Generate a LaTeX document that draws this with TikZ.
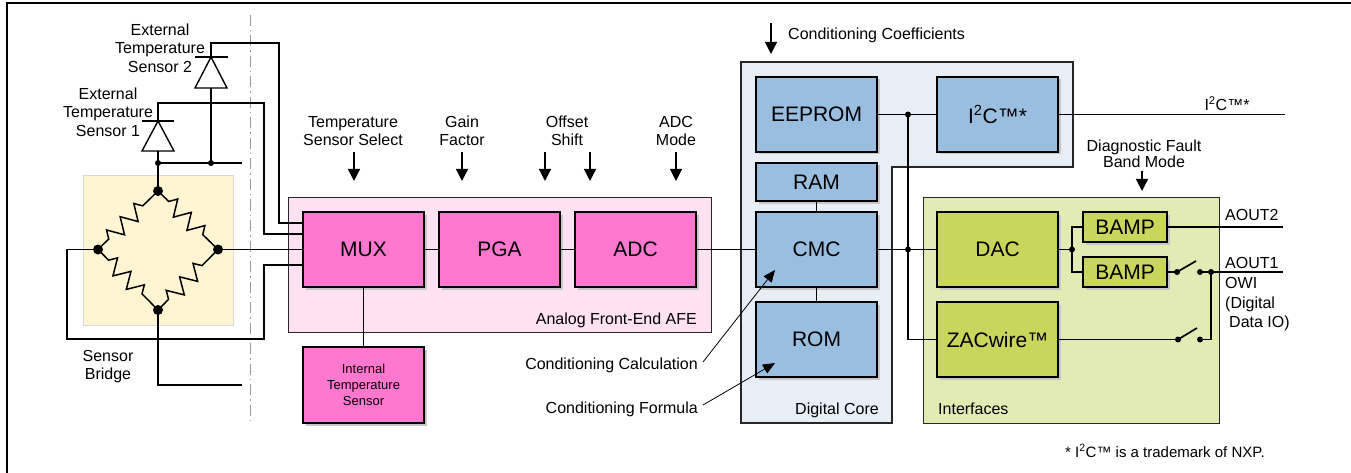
\documentclass[tikz,border=0pt]{standalone}
\usepackage{fontspec}
\setmainfont{Liberation Sans}
\usetikzlibrary{arrows.meta,shadows,decorations.pathmorphing,calc}
\definecolor{pinkc}{HTML}{FF78D0}
\definecolor{pinkbg}{HTML}{FFE1F4}
\definecolor{bluec}{HTML}{99BEDF}
\definecolor{bluebg}{HTML}{E8EEF6}
\definecolor{greenc}{HTML}{C9D65B}
\definecolor{greenbg}{HTML}{E3EBB5}
\definecolor{bridgebg}{HTML}{FFF5D3}
\begin{document}
\begin{tikzpicture}[x=1pt,y=-1pt,
  wire/.style={line width=1.7pt},
  thinwire/.style={line width=1.2pt},
  box/.style={draw=black, line width=1.2pt, inner sep=0pt, minimum width=121pt, minimum height=75pt,
    font=\fontsize{21}{24}\selectfont,
    general shadow={fill=black!22, shadow xshift=2.5pt, shadow yshift=-2.5pt}},
  pinkbox/.style={box, fill=pinkc},
  bluebox/.style={box, fill=bluec},
  greenbox/.style={box, fill=greenc},
  cont/.style={draw=black!85, line width=1.2pt},
  lbl/.style={font=\fontsize{16}{18.5}\selectfont, align=center, inner sep=0pt},
  ctl/.style={line width=1.2pt, -{Triangle[width=12pt,length=12pt]}},
  thinarrow/.style={line width=0.8pt, -{Triangle[width=10pt,length=12pt]}},
  dot/.style={circle, fill=black, inner sep=0pt, minimum size=6pt},
  bigdot/.style={circle, fill=black, inner sep=0pt, minimum size=10pt},
  resistor/.style={line width=1.5pt, line join=miter, decorate, decoration={zigzag, segment length=19pt, amplitude=8pt, pre length=15pt, post length=15pt}},
]
\useasboundingbox (0,0) rectangle (1351,473);
\fill[white] (0,0) rectangle (1351,473);
% outer frame
\draw[line width=2pt] (7,473) -- (7,3.5) -- (1351,3.5);
% dash-dot separator
\draw[black!40, line width=1pt, dash pattern=on 11pt off 4pt on 1.5pt off 4pt] (250,15) -- (250,423);

% ---------- containers ----------
\node[cont, fill=pinkbg, minimum width=423pt, minimum height=135pt, anchor=north west, inner sep=0pt] (afe) at (288,197) {};
\node[lbl, anchor=east] (afelbl) at (697,320) {Analog Front-End AFE};
\draw[cont, fill=bluebg] (741,62) -- (1073,62) -- (1073,167) -- (892,167) -- (892,423) -- (741,423) -- cycle;
\node[lbl, anchor=east] (dclbl) at (879,410) {Digital Core};
\node[cont, fill=greenbg, minimum width=296pt, minimum height=226pt, anchor=north west, inner sep=0pt] (intf) at (923,197) {};
\node[lbl, anchor=west] (intlbl) at (938,409) {Interfaces};

% ---------- sensor bridge ----------
\fill[bridgebg, draw=black!15] (83,175) rectangle (233,325);
\node[bigdot] (bt) at (158,191) {};
\node[bigdot] (bl) at (98,249.5) {};
\node[bigdot] (br) at (218,249.5) {};
\node[bigdot] (bb) at (158,310) {};
\draw[resistor] (bl.center) -- (bt.center);
\draw[resistor] (bt.center) -- (br.center);
\draw[resistor] (bl.center) -- (bb.center);
\draw[resistor] (bb.center) -- (br.center);
\node[lbl] (sblbl) at (108,366.5) {Sensor\\Bridge};

% ---------- AFE blocks ----------
\node[pinkbox] (mux) at (363.5,249.5) {MUX};
\node[pinkbox] (pga) at (499.5,249.5) {PGA};
\node[pinkbox] (adc) at (635.5,249.5) {ADC};
\node[pinkbox, minimum height=76pt, align=center, font=\fontsize{13}{16}\selectfont] (its) at (363.5,385) {Internal\\Temperature\\Sensor};

\coordinate (m1) at ([yshift=26.5pt]mux.west);
\coordinate (m2) at ([yshift=15.5pt]mux.west);
\coordinate (m3) at (mux.west);
\coordinate (m4) at ([yshift=-15.5pt]mux.west);

% ---------- external diodes ----------
\coordinate (d2a) at (211,57);
\coordinate (d1a) at (158,121);
\draw[wire] (195,57) -- (228,57);
\draw[line width=1.4pt, fill=white] (d2a) -- (195,88) -- (227,88) -- cycle;
\draw[wire] (142,121) -- (174,121);
\draw[line width=1.4pt, fill=white] (d1a) -- (142,151) -- (174,151) -- cycle;
\node[lbl] (es2) at (160,48) {External\\Temperature\\Sensor 2};
\node[lbl] (es1) at (108,112) {External\\Temperature\\Sensor 1};

\node[dot] (j1) at (158,163) {};
\node[dot] (j2) at (211,163) {};
\coordinate (jend) at (242,163);
\draw[wire] (d2a) -- (211,43) -- (279,43) |- (m1);
\draw[wire] (d1a) -- (158,103) -- (264,103) |- (m2);
\draw[wire] (211,88) -- (j2.center);
\draw[wire] (158,151) -- (bt.center);
\draw[wire] (j1.center) -- (jend);
\draw[wire] (br.center) -- (m3);
\draw[wire] (bl.center) -- (67,249.5) -- (67,339) -- (264,339) |- (m4);
\coordinate (bend) at (242,385);
\draw[wire] (bb.center) |- (bend);

% ---------- AFE connections ----------
\draw[wire] (mux) -- (pga);
\draw[wire] (pga) -- (adc);
\draw[wire] (mux) -- (its);

% control inputs
\node[lbl] (tss) at (353,131) {Temperature\\Sensor Select};
\node[lbl] (gf) at (462,131) {Gain\\Factor};
\node[lbl] (os) at (567,131) {Offset\\Shift};
\node[lbl] (am) at (676,131) {ADC\\Mode};
\draw[ctl] (354,152) -- (354,181);
\draw[ctl] (462,152) -- (462,181);
\draw[ctl] (545,152) -- (545,181);
\draw[ctl] (590,152) -- (590,181);
\draw[ctl] (676,152) -- (676,181);

% ---------- digital core ----------
\node[bluebox] (eeprom) at (816.5,114.5) {EEPROM};
\node[bluebox] (i2c) at (997.5,114.5) {I\textsuperscript{2}C™*};
\node[bluebox, minimum height=38pt] (ram) at (816.5,182) {RAM};
\node[bluebox] (cmc) at (816.5,249.5) {CMC};
\node[bluebox] (rom) at (816.5,339.5) {ROM};

\node[lbl, anchor=west] (cc) at (788,35) {Conditioning Coefficients};
\draw[ctl] (771,23) -- (771,54);

\draw[thinwire] (ram) -- (cmc);
\draw[thinwire] (cmc) -- (rom);
\draw[wire] (adc) -- (cmc);

\node[lbl, anchor=east] (ccalc) at (698,365) {Conditioning Calculation};
\node[lbl, anchor=east] (cform) at (698,409) {Conditioning Formula};
\coordinate (cmctip) at (775,270);
\coordinate (romtip) at (775,363);
\draw[thinarrow] (703,362) -- (cmctip);
\draw[thinarrow] (703,405) -- (romtip);

% ---------- interfaces ----------
\node[greenbox] (dac) at (997.5,249.5) {DAC};
\node[greenbox] (zac) at (997.5,339.5) {ZACwire™};
\node[greenbox, minimum width=84pt, minimum height=30pt] (bamp1) at (1125,227) {BAMP};
\node[greenbox, minimum width=84pt, minimum height=30pt] (bamp2) at (1125,272) {BAMP};

\node[dot] (ja) at (908,114.5) {};
\node[dot] (jb) at (908,249.5) {};
\draw[wire] (eeprom) -- (i2c);
\draw[wire] (cmc) -- (dac);
\draw[wire] (ja.center) |- (zac.west);

\coordinate (i2cend) at (1285,114.5);
\draw[wire] (i2c.east) -- (i2cend);
\node[lbl, anchor=center] (i2clbl) at (1227,104) {I\textsuperscript{2}C™*};

\node[dot] (jd) at (1072,249.5) {};
\draw[wire] (dac.east) -- (jd.center);
\draw[wire] (bamp1.west) -| (jd.center) |- (bamp2.west);

\node[lbl, font=\fontsize{16}{14}\selectfont] (dfb) at (1144,154) {Diagnostic Fault\\Band Mode};
\draw[ctl] (1142,171) -- (1142,191);

% outputs
\coordinate (aout2) at (1283,227);
\draw[wire] (bamp1.east) -- (aout2);
\node[lbl, anchor=west] (a2lbl) at (1225,215) {AOUT2};

\node[dot] (s1a) at (1177,272) {};
\node[dot] (s1b) at (1200,272) {};
\node[dot] (jo) at (1211,272) {};
\coordinate (aout1) at (1283,272);
\draw[wire] (bamp2.east) -- (s1a.center);
\draw[wire] (s1a.center) -- (1196,261);
\draw[wire] (s1b.center) -- (aout1);
\node[lbl, anchor=west] (a1lbl) at (1225,263) {AOUT1};
\node[lbl, anchor=west, align=left, font=\fontsize{16}{19.5}\selectfont] (owi) at (1225,304.5) {OWI\\(Digital\\\hspace{4pt}Data IO)};

\node[dot] (s2a) at (1178,339.5) {};
\node[dot] (s2b) at (1200,339.5) {};
\draw[wire] (zac.east) -- (s2a.center);
\draw[wire] (s2a.center) -- (1197,328);
\draw[wire] (jo.center) |- (s2b.center);

\node[lbl, anchor=west, font=\fontsize{15}{18}\selectfont] (foot) at (1065,451) {* I\textsuperscript{2}C™ is a trademark of NXP.};
\end{tikzpicture}
\end{document}
